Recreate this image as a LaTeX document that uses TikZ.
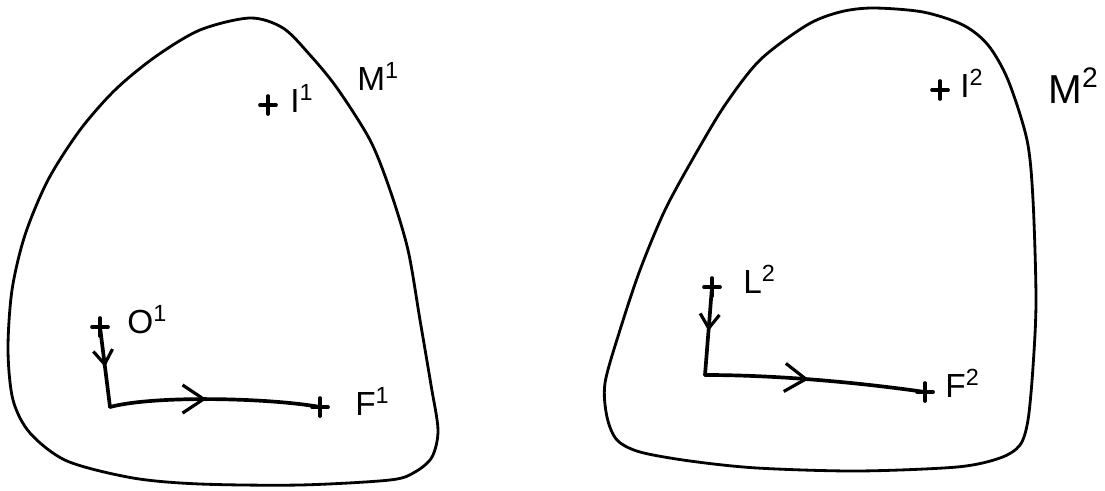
\documentclass[tikz,border=0pt]{standalone}
\usepackage{fontspec}
\setmainfont{Liberation Sans}
\usetikzlibrary{arrows.meta,decorations.markings,positioning}

\tikzset{
  contorno/.style={line width=1.6pt, line join=round},
  trazo/.style={line width=2.1pt, line cap=round},
  flecha/.style={trazo, postaction={decorate},
    decoration={markings, mark=at position #1 with {\arrow{Straight Barb[length=12pt,width=16pt,line width=1.8pt]}}}},
  flechita/.style={trazo, postaction={decorate},
    decoration={markings, mark=at position #1 with {\arrow{Straight Barb[length=8pt,width=11pt,line width=1.8pt]}}}},
  etiqueta/.style={inner sep=0pt, anchor=base west, font=\fontsize{19}{22}\selectfont},
}

\begin{document}
\begin{tikzpicture}[x=0.02cm, y=-0.02cm]
  \useasboundingbox (0,0) rectangle (1105,490);
  % contornos de las variedades
  \draw[contorno] plot[smooth cycle] coordinates {
    (250,18) (283,28) (310,55) (337,88) (370,140) (390,190) (408,250) (420,320)
    (431,385) (438,430) (432,457) (415,472) (390,480) (300,485) (200,484) (133,478)
    (67,461) (30,433) (13,400) (8,350) (12,290) (25,235) (48,180) (80,130)
    (115,90) (155,57) (200,30)};
  \draw[contorno] plot[smooth cycle] coordinates {
    (873,8) (923,12) (963,25) (988,45) (1008,80) (1027,140) (1033,200) (1036,300)
    (1033,367) (1028,420) (1020,445) (1000,458) (957,467) (857,471) (757,468) (690,461)
    (640,452) (617,440) (607,417) (605,383) (620,330) (640,270) (665,210) (695,155)
    (725,105) (760,60) (807,25) (840,12)};
  % puntos
  \coordinate (O1) at (100,327);
  \coordinate (C1) at (110,407);
  \coordinate (F1) at (320,407);
  \coordinate (I1) at (268,105);
  \coordinate (L2) at (712,287);
  \coordinate (C2) at (705,375);
  \coordinate (F2) at (925,392);
  \coordinate (I2) at (940,90);
  \foreach \p in {O1,F1,I1,L2,F2,I2} {
    \draw[trazo] (\p) +(-8,0) -- +(8,0) +(0,-9) -- +(0,9);
  }
  % caminos
  \draw[flechita=0.5] (O1) -- (C1);
  \draw[flecha=0.46] (C1) .. controls +(45,-12) and +(-50,-9) .. (F1);
  \draw[flechita=0.5] (L2) -- (C2);
  \draw[flecha=0.47] (C2) .. controls +(70,0) and +(-70,-10) .. (F2);
  % nombres
  \node[etiqueta] (o1lab) at (127,333) {O\textsuperscript{1}};
  \node[etiqueta] (f1lab) at (355,415) {F\textsuperscript{1}};
  \node[etiqueta] (i1lab) at (290,112) {I\textsuperscript{1}};
  \node[etiqueta] (m1lab) at (357,90) {M\textsuperscript{1}};
  \node[etiqueta] (l2lab) at (743,293) {L\textsuperscript{2}};
  \node[etiqueta] (f2lab) at (945,397) {F\textsuperscript{2}};
  \node[etiqueta] (i2lab) at (960,97) {I\textsuperscript{2}};
  \node[etiqueta, font=\fontsize{23}{26}\selectfont] (m2lab) at (1048,103) {M\textsuperscript{2}};
\end{tikzpicture}
\end{document}
